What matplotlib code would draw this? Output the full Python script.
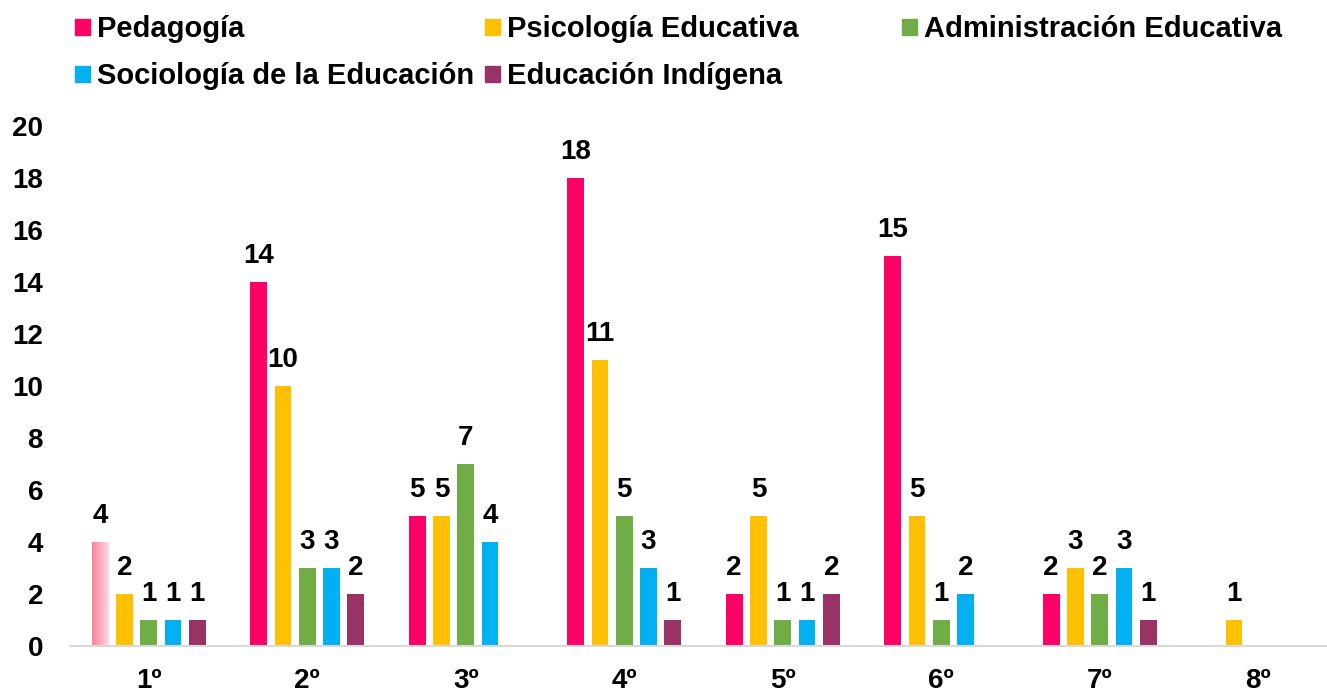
import matplotlib
matplotlib.use('Agg')
import matplotlib.pyplot as plt
import numpy as np
from matplotlib.patches import Rectangle
from matplotlib.colors import LinearSegmentedColormap

# datos
categorias = ['1º', '2º', '3º', '4º', '5º', '6º', '7º', '8º']
series = ['Pedagogía', 'Psicología Educativa', 'Administración Educativa',
          'Sociología de la Educación', 'Educación Indígena']
pedagogia = [4, 14, 5, 18, 2, 15, 2, np.nan]
psicologia = [2, 10, 5, 11, 5, 5, 3, 1]
administracion = [1, 3, 7, 5, 1, 1, 2, np.nan]
sociologia = [1, 3, 4, 3, 1, 2, 3, np.nan]
indigena = [1, 2, np.nan, 1, 2, np.nan, 1, np.nan]
valores = [pedagogia, psicologia, administracion, sociologia, indigena]
colores = ['#FF0066', '#FFC000', '#70AD47', '#00B0F0', '#993366']

W, H = 1327, 692
plt.rcParams['font.family'] = ['Liberation Sans', 'DejaVu Sans']
plt.rcParams['font.weight'] = 'bold'
FS = 20
FS_LEG = 21

fig = plt.figure(figsize=(W / 100, H / 100), dpi=100)
left = 69.5 / W
ax = fig.add_axes([left, (H - 646) / H, 1 - left, 520 / H])

x = np.arange(len(categorias))
pas = 0.153
larg = 0.107

for i, (vals, col) in enumerate(zip(valores, colores)):
    pos = x + (i - 2) * pas
    v = np.array(vals, dtype=float)
    ok = ~np.isnan(v)
    bars = ax.bar(pos[ok], v[ok], width=larg, color=col, zorder=2)
    for b, val in zip(bars, v[ok]):
        ax.annotate(f'{int(val)}', (b.get_x() + b.get_width() / 2, val),
                    xytext=(0, 13.5), textcoords='offset points',
                    ha='center', va='baseline', fontsize=FS, fontweight='bold',
                    annotation_clip=False)

# première barre en dégradé
b0 = ax.patches[0]
b0.set_facecolor('none')
cmap = LinearSegmentedColormap.from_list('grad', ['#FF7FA0', '#FFD9E3'])
grad = np.linspace(0, 1, 100).reshape(1, -1)
im = ax.imshow(grad, cmap=cmap, aspect='auto', zorder=2,
               extent=[b0.get_x(), b0.get_x() + b0.get_width(), 0, b0.get_height()])
im.set_clip_path(b0)

ax.set_xlim(-0.5, -0.5 + (W - 69.5) / 158.5)
ax.set_ylim(0, 20)
ax.set_yticks(np.arange(0, 21, 2))
ax.set_xticks(x)
ax.set_xticklabels(categorias)
ax.tick_params(axis='both', length=0, labelsize=FS)
ax.tick_params(axis='x', pad=16)
ax.tick_params(axis='y', pad=19)
for lab in ax.get_xticklabels() + ax.get_yticklabels():
    lab.set_fontweight('bold')
for s in ['top', 'right', 'left']:
    ax.spines[s].set_visible(False)
ax.spines['bottom'].set_color('#D9D9D9')
ax.spines['bottom'].set_linewidth(1.5)

# légende manuelle
pos_leg = [(75, 27), (485, 27), (902, 27), (75, 74), (485, 74)]
for nom, col, (px, py) in zip(series, colores, pos_leg):
    fig.add_artist(Rectangle((px / W, (H - py - 7.5) / H), 15 / W, 15 / H,
                             color=col, transform=fig.transFigure))
    fig.text((px + 22) / W, (H - py - 2) / H, nom, fontsize=FS_LEG, fontweight='bold',
             va='center', ha='left')

fig.savefig('out.png', dpi=100)
